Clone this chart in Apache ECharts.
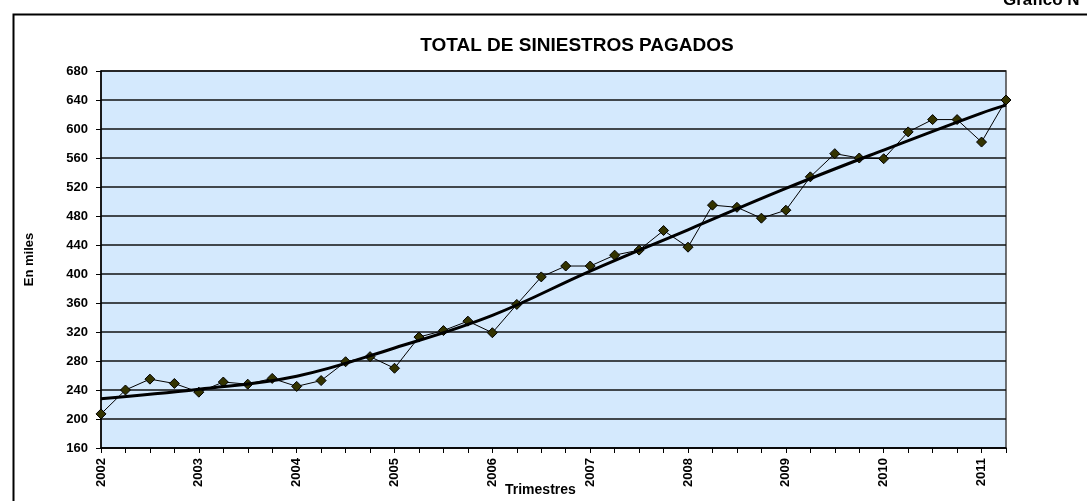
<!DOCTYPE html>
<html>
<head>
<meta charset="utf-8">
<title>Total de siniestros pagados</title>
<script src="https://cdn.jsdelivr.net/npm/echarts@6/dist/echarts.min.js"></script>
<style>
  html, body { margin: 0; padding: 0; background: #fff; }
  #chart { width: 1087px; height: 501px; }
</style>
</head>
<body>
<div id="chart"></div>
<script>
// trimestres 2002-I ... 2011-II
const quarters = [];
for (let y = 2002; y <= 2011; y++) {
  for (let q = 1; q <= 4; q++) {
    if (y === 2011 && q > 2) break;
    quarters.push(q === 1 ? String(y) : y + "-" + q);
  }
}
// en miles
const pagados = [207, 240, 255, 249, 237, 251, 248, 256, 245, 253,
  279, 286, 270, 313, 322, 335, 319, 358, 396, 411,
  411, 426, 433, 460, 437, 495, 492, 477, 488, 534,
  566, 560, 559, 596, 613, 613, 582, 640];
// linea de tendencia: [indice de trimestre, valor]
const tendIdx = [0, 4, 8, 12, 16, 20, 24, 28, 32, 36, 37];
const tendVal = [228, 241, 259, 298, 343, 404, 461, 518, 571, 622, 633];
const yTicks = { min: 160, max: 680, step: 40 };

const font = "Liberation Sans, Arial, sans-serif";
var myChart = echarts.init(document.getElementById("chart"));
var option = {
  animation: false,
  backgroundColor: "#fff",
  title: {
    text: "TOTAL DE SINIESTROS PAGADOS",
    left: 572,
    textAlign: "center",
    top: 31,
    textStyle: {
      fontFamily: font,
      fontWeight: "bold",
      fontSize: 19,
      color: "#000",
    },
  },
  graphic: [
    {
      type: "rect",
      left: 11,
      top: 12,
      shape: { width: 1200, height: 600 },
      style: { fill: "none", stroke: "#000", lineWidth: 2 },
      silent: true,
    },
    {
      type: "text",
      left: 1003,
      top: -8,
      style: {
        text: "Gráfico N°",
        fontFamily: font,
        fontWeight: "bold",
        fontSize: 17,
        fill: "#000",
      },
    },
    {
      type: "text",
      left: 505,
      top: 483,
      style: {
        text: "Trimestres",
        fontFamily: font,
        fontWeight: "bold",
        fontSize: 14,
        fill: "#000",
      },
    },
  ],
  grid: {
    left: 101,
    right: 81,
    top: 71,
    height: 377,
    show: true,
    backgroundColor: "#d4e9fd",
    borderColor: "#444",
    borderWidth: 1.5,
  },
  xAxis: {
    type: "category",
    data: quarters,
    boundaryGap: false,
    axisLine: { lineStyle: { color: "#000", width: 1.5 } },
    axisTick: { interval: 0, length: 5, lineStyle: { color: "#000" } },
    axisLabel: {
      interval: 3,
      rotate: 90,
      margin: 10,
      fontFamily: font,
      fontWeight: "bold",
      fontSize: 13,
      color: "#000",
    },
    splitLine: { show: false },
  },
  yAxis: {
    type: "value",
    min: yTicks.min,
    max: yTicks.max,
    interval: yTicks.step,
    name: "En miles",
    nameLocation: "middle",
    nameGap: 65,
    nameTextStyle: {
      fontFamily: font,
      fontWeight: "bold",
      fontSize: 13,
      color: "#000",
    },
    axisLine: { show: true, lineStyle: { color: "#000", width: 1.5 } },
    axisTick: { show: true, length: 5, lineStyle: { color: "#000" } },
    axisLabel: {
      margin: 13,
      fontFamily: font,
      fontWeight: "bold",
      fontSize: 13,
      color: "#000",
    },
    splitLine: { show: true, lineStyle: { color: "#111", width: 1.5 } },
  },
  series: [
    {
      name: "Siniestros pagados",
      type: "line",
      data: pagados,
      symbol: "diamond",
      symbolSize: 10,
      lineStyle: { color: "#000", width: 1 },
      itemStyle: { color: "#333300", borderColor: "#000", borderWidth: 1 },
      z: 3,
    },
    {
      name: "Tendencia",
      type: "line",
      data: tendIdx.map((i, k) => [i, tendVal[k]]),
      showSymbol: false,
      symbol: "none",
      smooth: 0.4,
      lineStyle: { color: "#000", width: 3 },
      z: 4,
    },
  ],
};
myChart.setOption(option);
</script>
</body>
</html>
